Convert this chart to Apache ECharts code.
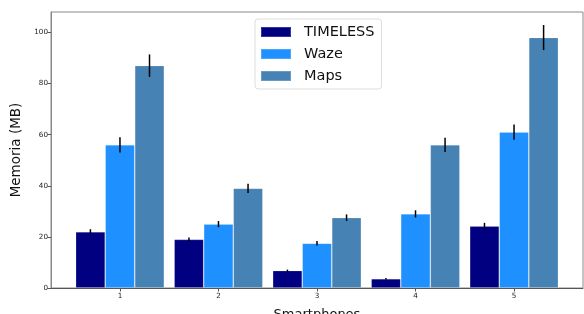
<!DOCTYPE html>
<html>
<head>
<meta charset="utf-8">
<script src="https://cdn.jsdelivr.net/npm/echarts@6/dist/echarts.min.js"></script>
<style>
  html, body { margin: 0; padding: 0; background: #fff; }
  #chart { width: 584px; height: 314px; }
</style>
</head>
<body>
<div id="chart"></div>
<script>
  // smartphones on x, memory in MB
  var phones = [1, 2, 3, 4, 5];
  var yTicks = [0, 20, 40, 60, 80, 100];
  var timeless = [22, 19, 6.8, 3.6, 24.2];
  var timelessErr = [1, 0.8, 0.4, 0.3, 1.3];
  var waze = [56, 25, 17.5, 29, 61];
  var wazeErr = [3, 1.2, 0.9, 1.4, 3];
  var maps = [87, 39, 27.5, 56, 98];
  var mapsErr = [4.4, 1.8, 1.3, 2.8, 4.9];

  var barUnit = 0.3; // bar width in x units

  function pairs(vals) {
    var out = [];
    for (var i = 0; i < phones.length; i++) out.push([phones[i], vals[i]]);
    return out;
  }

  var errData = [];
  [[timeless, timelessErr], [waze, wazeErr], [maps, mapsErr]].forEach(function (s, k) {
    for (var i = 0; i < phones.length; i++) {
      errData.push([phones[i], s[0][i] - s[1][i], s[0][i] + s[1][i], k - 1]);
    }
  });

  var chart = echarts.init(document.getElementById('chart'));
  var font = 'DejaVu Sans';
  var edge = 'rgba(255,255,255,0.2)';
  chart.setOption({
    animation: false,
    textStyle: { fontFamily: font },
    grid: {
      left: 51, right: 1, top: 12, bottom: 26,
      outerBoundsMode: 'none',
      containLabel: false,
      show: true, borderColor: '#888', borderWidth: 1, backgroundColor: 'transparent'
    },
    legend: {
      data: ['TIMELESS', 'Waze', 'Maps'],
      orient: 'vertical',
      left: 255, top: 19,
      itemWidth: 30, itemHeight: 10, itemGap: 6,
      padding: [5, 7, 5, 5],
      borderColor: '#ddd', borderWidth: 1, borderRadius: 3,
      icon: 'rect',
      textStyle: { fontSize: 14.5, lineHeight: 16, color: '#111', fontFamily: font, padding: [0, 0, 0, 8] }
    },
    xAxis: {
      type: 'value',
      min: 0.3, max: 5.7,
      name: 'Smartphones',
      nameLocation: 'middle',
      nameGap: 20,
      nameTextStyle: { fontSize: 13, color: '#111', fontFamily: font },
      axisLine: { lineStyle: { color: '#555', width: 1 } },
      axisTick: { customValues: phones, length: 3.5, lineStyle: { color: '#555' } },
      axisLabel: { customValues: phones, fontSize: 7.2, color: '#222', margin: 5, fontFamily: font },
      splitLine: { show: false }
    },
    yAxis: {
      type: 'value',
      min: 0, max: 108,
      name: 'Memoria (MB)',
      nameLocation: 'middle',
      nameGap: 23,
      nameTextStyle: { fontSize: 13.5, color: '#111', fontFamily: font },
      axisLine: { show: true, lineStyle: { color: '#888', width: 1 } },
      axisTick: { show: true, customValues: yTicks, length: 3.5, lineStyle: { color: '#555' } },
      axisLabel: { customValues: yTicks, fontSize: 7.2, color: '#222', margin: 3, fontFamily: font },
      splitLine: { show: false }
    },
    series: [
      { name: 'TIMELESS', type: 'bar', barWidth: '30%', barGap: '0%', data: pairs(timeless),
        itemStyle: { color: '#000080', borderColor: edge, borderWidth: 0.8 } },
      { name: 'Waze', type: 'bar', barWidth: '30%', barGap: '0%', data: pairs(waze),
        itemStyle: { color: '#1e90ff', borderColor: edge, borderWidth: 0.8 } },
      { name: 'Maps', type: 'bar', barWidth: '30%', barGap: '0%', data: pairs(maps),
        itemStyle: { color: '#4682b4', borderColor: edge, borderWidth: 0.8 } },
      {
        name: 'err', type: 'custom', z: 10, silent: true,
        data: errData,
        renderItem: function (params, api) {
          var x = api.value(0) + api.value(3) * barUnit;
          var p1 = api.coord([x, api.value(1)]);
          var p2 = api.coord([x, api.value(2)]);
          return {
            type: 'line',
            shape: { x1: p1[0], y1: p1[1], x2: p2[0], y2: p2[1] },
            style: { stroke: '#000', lineWidth: 1.5 }
          };
        }
      }
    ]
  });
</script>
</body>
</html>
